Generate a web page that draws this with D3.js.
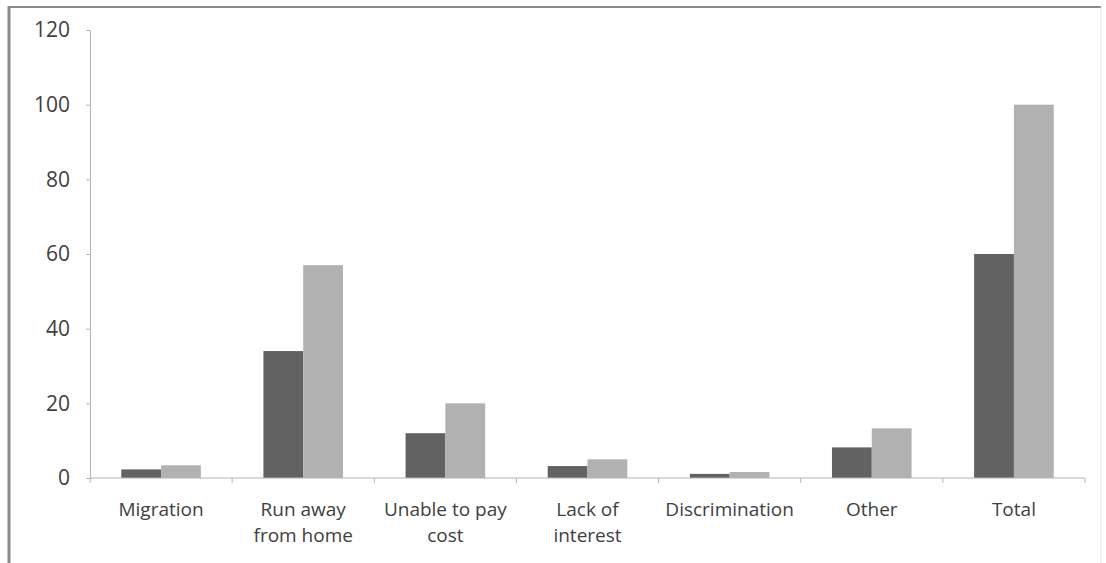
<!DOCTYPE html>
<html>
<head>
<meta charset="utf-8">
<script src="https://cdn.jsdelivr.net/npm/d3@7"></script>
<style>
  body { margin: 0; background: #fff; }
  svg text { font-family: "Open Sans", "Liberation Sans", sans-serif; fill: #404040; }
</style>
</head>
<body>
<div id="chart"></div>
<script>
// Reasons for leaving school, two series
const categories = ['Migration', 'Run away\nfrom home', 'Unable to pay\ncost', 'Lack of\ninterest', 'Discrimination', 'Other', 'Total'];
const seriesDark = [2.3, 34, 12, 3.2, 1.1, 8.2, 60];
const seriesLight = [3.4, 57, 20, 5, 1.6, 13.3, 100];
const yTicks = [0, 20, 40, 60, 80, 100, 120];

const width = 1106, height = 563;
const margin = { top: 30, right: 21, bottom: 85, left: 90 };

const svg = d3.select('#chart').append('svg')
    .attr('width', width)
    .attr('height', height);

// outer frame
svg.append('line').attr('x1', 9).attr('x2', 9).attr('y1', 6).attr('y2', height)
    .attr('stroke', '#8a8a8a').attr('stroke-width', 3);
svg.append('line').attr('x1', 8).attr('x2', 1101).attr('y1', 7).attr('y2', 7)
    .attr('stroke', '#8a8a8a').attr('stroke-width', 2);
svg.append('line').attr('x1', 1101).attr('x2', 1101).attr('y1', 7).attr('y2', height)
    .attr('stroke', '#e4e4e4').attr('stroke-width', 1);

const innerW = width - margin.left - margin.right;
const innerH = height - margin.top - margin.bottom;

const g = svg.append('g')
    .attr('transform', `translate(${margin.left},${margin.top})`);

const x0 = d3.scaleBand()
    .domain(categories)
    .range([0, innerW])
    .paddingInner(0.44)
    .paddingOuter(0.22);

const x1 = d3.scaleBand()
    .domain(['dark', 'light'])
    .range([0, x0.bandwidth()]);

const y = d3.scaleLinear()
    .domain([0, 120])
    .range([innerH, 0]);

// y axis
const yAxis = g.append('g')
    .call(d3.axisLeft(y).tickValues(yTicks).tickSize(4).tickPadding(16));
yAxis.select('.domain').attr('stroke', '#b4b4b4');
yAxis.selectAll('.tick line').attr('stroke', '#b4b4b4');
yAxis.selectAll('.tick text').style('font-size', '21px').style('fill', '#404040')
    .style('font-family', '"Open Sans", sans-serif');

// bars
const rows = categories.map((c, i) => ({ cat: c, dark: seriesDark[i], light: seriesLight[i] }));
const groups = g.selectAll('.grp').data(rows).enter().append('g')
    .attr('transform', d => `translate(${x0(d.cat)},0)`);

groups.append('rect')
    .attr('x', x1('dark'))
    .attr('y', d => y(d.dark))
    .attr('width', x1.bandwidth())
    .attr('height', d => innerH - y(d.dark))
    .attr('fill', '#626262');

groups.append('rect')
    .attr('x', x1('light'))
    .attr('y', d => y(d.light))
    .attr('width', x1.bandwidth())
    .attr('height', d => innerH - y(d.light))
    .attr('fill', '#b1b1b1');

// x axis line and boundary ticks
const step = innerW / categories.length;
g.append('line').attr('x1', 0).attr('x2', innerW).attr('y1', innerH).attr('y2', innerH)
    .attr('stroke', '#b4b4b4');
d3.range(categories.length + 1).forEach(i => {
    g.append('line')
        .attr('x1', i * step).attr('x2', i * step)
        .attr('y1', innerH).attr('y2', innerH + 5)
        .attr('stroke', '#b4b4b4');
});

// category labels, one text per line
categories.forEach(c => {
    c.split('\n').forEach((line, j) => {
        g.append('text')
            .attr('text-anchor', 'middle')
            .attr('x', x0(c) + x0.bandwidth() / 2)
            .attr('y', innerH + 38 + j * 26)
            .style('font-size', '19px')
            .text(line);
    });
});
</script>
</body>
</html>
